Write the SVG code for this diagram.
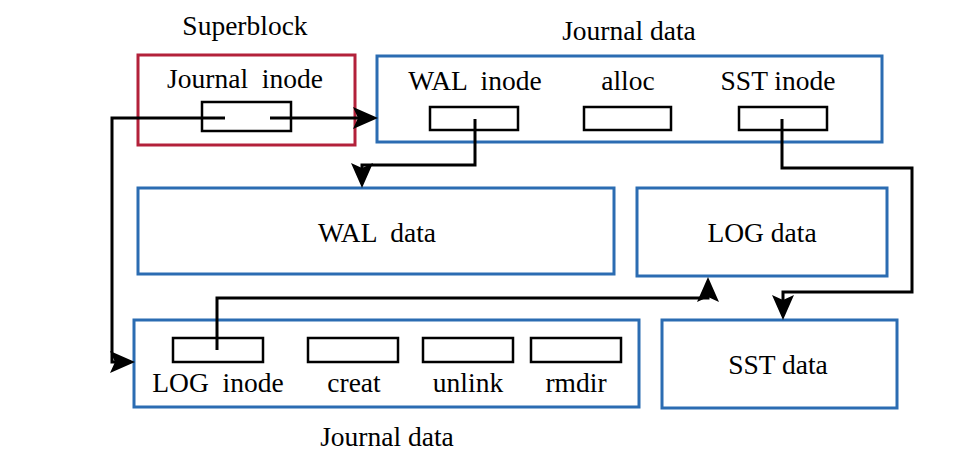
<svg xmlns="http://www.w3.org/2000/svg" width="963" height="474" viewBox="0 0 963 474">
  <defs>
    <style>
      .blue { fill: none; stroke: #2b6cb2; stroke-width: 3; }
      .red { fill: none; stroke: #b3213a; stroke-width: 3; }
      .slot { fill: #ffffff; stroke: #000000; stroke-width: 2.5; }
      .conn { fill: none; stroke: #000000; stroke-width: 3; }
      text { font-family: "Liberation Serif", "Times New Roman", serif; font-size: 27.5px; fill: #000000; text-anchor: middle; }
    </style>
    <marker id="arrow" markerUnits="userSpaceOnUse" markerWidth="40" markerHeight="40" viewBox="-20 -15 40 30" refX="0" refY="0" orient="auto" overflow="visible">
      <path d="M8,0 L-17,-11 L-12,0 L-17,11 Z" fill="#000000"/>
    </marker>
  </defs>
  <rect width="963" height="474" fill="#ffffff"/>

  <g id="superblock">
    <text x="245" y="35">Superblock</text>
    <rect class="red" x="138" y="55" width="217" height="90"/>
    <text x="245" y="88" xml:space="preserve">Journal  inode</text>
    <rect class="slot" x="202" y="102" width="89" height="29"/>
  </g>

  <g id="journal-data-top">
    <text x="629" y="40">Journal data</text>
    <rect class="blue" x="377" y="56" width="505" height="86"/>
    <text x="475" y="90" xml:space="preserve">WAL  inode</text>
    <text x="628" y="90">alloc</text>
    <text x="778" y="90">SST inode</text>
    <rect class="slot" x="430" y="107" width="88" height="23"/>
    <rect class="slot" x="584" y="107" width="87" height="23"/>
    <rect class="slot" x="739" y="107" width="88" height="23"/>
  </g>

  <g id="wal-data">
    <rect class="blue" x="138" y="188" width="476" height="86"/>
    <text x="377" y="242" xml:space="preserve">WAL  data</text>
  </g>

  <g id="log-data">
    <rect class="blue" x="637" y="188" width="250" height="88"/>
    <text x="762" y="242">LOG data</text>
  </g>

  <g id="sst-data">
    <rect class="blue" x="662" y="320" width="235" height="88"/>
    <text x="778" y="374">SST data</text>
  </g>

  <g id="journal-data-bottom">
    <rect class="blue" x="134" y="320" width="505" height="87"/>
    <rect class="slot" x="173" y="338" width="90" height="24"/>
    <rect class="slot" x="308" y="338" width="90" height="24"/>
    <rect class="slot" x="423" y="338" width="90" height="24"/>
    <rect class="slot" x="531" y="338" width="90" height="24"/>
    <text x="218" y="392" xml:space="preserve">LOG  inode</text>
    <text x="354" y="392">creat</text>
    <text x="468" y="392">unlink</text>
    <text x="576" y="392">rmdir</text>
    <text x="387" y="446">Journal data</text>
  </g>

  <g id="connectors">
    <path class="conn" d="M270,118 H370" marker-end="url(#arrow)"/>
    <path class="conn" d="M225,118 H112 V362 H127" marker-end="url(#arrow)"/>
    <path class="conn" d="M475,119 V165 H362 V180" marker-end="url(#arrow)"/>
    <path class="conn" d="M782,119 V168 H912 V292 H783 V312" marker-end="url(#arrow)"/>
    <path class="conn" d="M217,350 V298 H708 V285" marker-end="url(#arrow)"/>
  </g>
</svg>
